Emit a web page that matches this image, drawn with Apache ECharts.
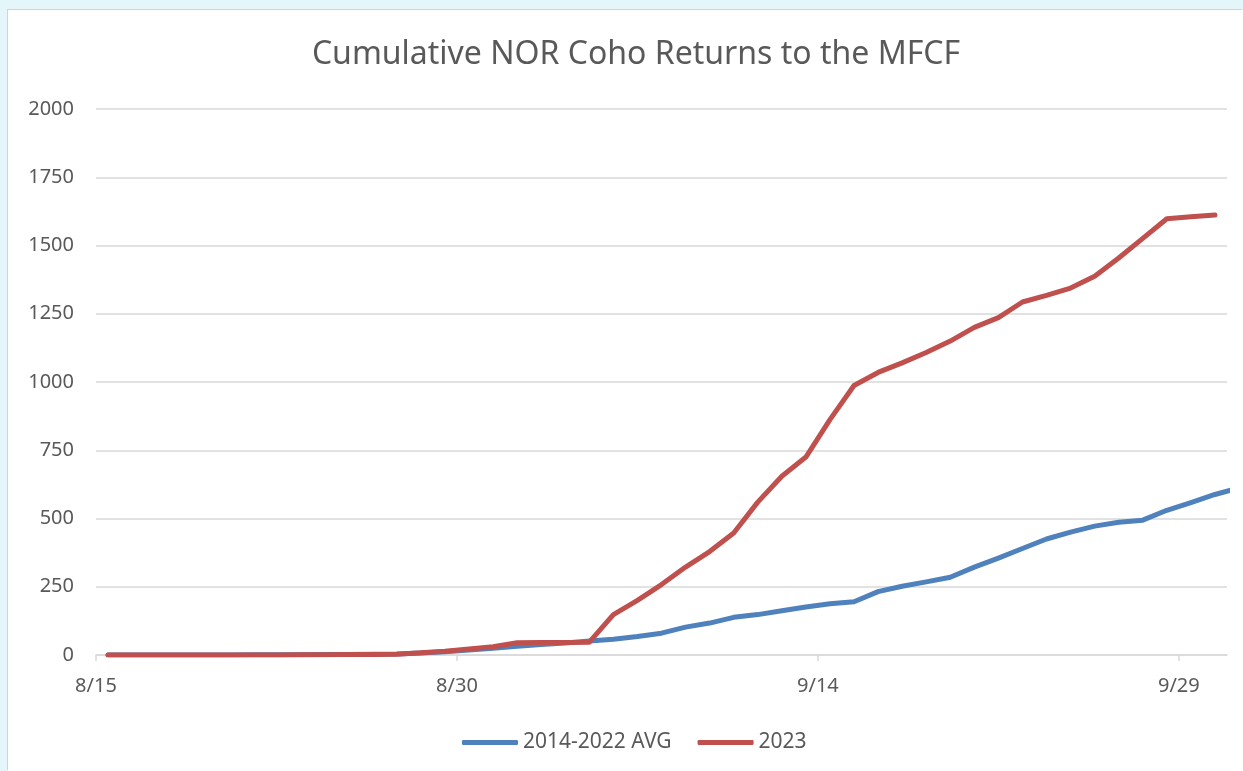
<!DOCTYPE html>
<html>
<head>
<meta charset="utf-8">
<title>Cumulative NOR Coho Returns to the MFCF</title>
<script src="https://cdn.jsdelivr.net/npm/echarts@6/dist/echarts.min.js"></script>
<style>
  html, body {
    margin: 0;
    padding: 0;
    width: 1243px;
    height: 771px;
    overflow: hidden;
    background: #e4f6fa;
  }
  #chart {
    position: absolute;
    left: 8px;
    top: 10px;
    width: 1235px;
    height: 761px;
    background: #ffffff;
    box-shadow: -1px -1px 0 #c9d6da;
  }
</style>
</head>
<body>
<div id="chart"></div>
<script>
// days from 8/15 to 10/1
const dates = [
  '8/15', '8/16', '8/17', '8/18', '8/19', '8/20', '8/21', '8/22', '8/23', '8/24',
  '8/25', '8/26', '8/27', '8/28', '8/29', '8/30', '8/31', '9/1', '9/2', '9/3',
  '9/4', '9/5', '9/6', '9/7', '9/8', '9/9', '9/10', '9/11', '9/12', '9/13',
  '9/14', '9/15', '9/16', '9/17', '9/18', '9/19', '9/20', '9/21', '9/22', '9/23',
  '9/24', '9/25', '9/26', '9/27', '9/28', '9/29', '9/30', '10/1'
]
const tickDays = [0, 15, 30, 45]
const yTicks = [0, 250, 500, 750, 1000, 1250, 1500, 1750, 2000]

const avgValues = [
  0, 0, 0, 0, 0, 0, 1, 1, 1, 2,
  2, 3, 4, 7, 12, 18, 25, 32, 38, 44,
  51, 58, 68, 80, 102, 117, 138, 148, 162, 176,
  188, 195, 232, 252, 268, 285, 322, 355, 390, 425,
  450, 472, 486, 494, 530, 558, 588, 612
]
const values2023 = [
  0, 0, 0, 0, 0, 0, 0, 0, 1, 1,
  2, 2, 3, 8, 14, 22, 30, 45, 46, 46,
  47, 148, 200, 258, 322, 379, 447, 560, 655, 725,
  862, 987, 1035, 1070, 1108, 1150, 1200, 1236, 1293, 1317,
  1344, 1387, 1454, 1526, 1598, 1605, 1612, null
]

const toPoints = (arr) => {
  const pts = []
  arr.forEach((v, i) => {
    if (v !== null) pts.push([i + 0.5, v])
  })
  return pts
}

const textColor = '#595959'
const gridColor = '#d9d9d9'
const font = '"Noto Sans", "Open Sans", sans-serif'

const chart = echarts.init(document.getElementById('chart'))
const option = {
  animation: false,
  title: {
    text: 'Cumulative NOR Coho Returns to the MFCF',
    left: 623,
    textAlign: 'center',
    top: 24,
    textStyle: {
      color: textColor,
      fontFamily: font,
      fontSize: 32,
      fontWeight: 'normal'
    }
  },
  legend: {
    bottom: 13,
    left: 449,
    itemWidth: 56,
    itemHeight: 5,
    itemGap: 26,
    icon: 'roundRect',
    textStyle: {
      color: textColor,
      fontFamily: font,
      fontSize: 21
    },
    data: ['2014-2022 AVG', '2023']
  },
  grid: {
    left: 88,
    right: 16,
    top: 99,
    bottom: 116,
    containLabel: false
  },
  xAxis: {
    type: 'value',
    min: 0,
    max: 47,
    interval: 15,
    splitLine: { show: false },
    axisLine: {
      show: true,
      lineStyle: { color: gridColor, width: 1.5 }
    },
    axisTick: {
      show: true,
      length: 6,
      customValues: tickDays,
      lineStyle: { color: gridColor, width: 1.5 }
    },
    axisLabel: {
      color: textColor,
      fontFamily: font,
      fontSize: 20,
      margin: 21,
      customValues: tickDays,
      formatter: (v) => (v % 15 === 0 ? dates[v] : '')
    }
  },
  yAxis: {
    type: 'value',
    min: 0,
    max: 2000,
    interval: 250,
    axisLine: { show: false },
    axisTick: { show: false },
    splitLine: {
      lineStyle: { color: gridColor, width: 1.5 }
    },
    axisLabel: {
      color: textColor,
      fontFamily: font,
      fontSize: 20,
      margin: 22,
      formatter: (v) => (yTicks.includes(v) ? String(v) : '')
    }
  },
  series: [
    {
      name: '2014-2022 AVG',
      type: 'line',
      showSymbol: false,
      symbol: 'none',
      color: '#4f81bd',
      lineStyle: { width: 5, cap: 'round', join: 'round' },
      data: toPoints(avgValues)
    },
    {
      name: '2023',
      type: 'line',
      showSymbol: false,
      symbol: 'none',
      color: '#c0504d',
      lineStyle: { width: 5, cap: 'round', join: 'round' },
      data: toPoints(values2023)
    }
  ]
}
chart.setOption(option)
</script>
</body>
</html>
